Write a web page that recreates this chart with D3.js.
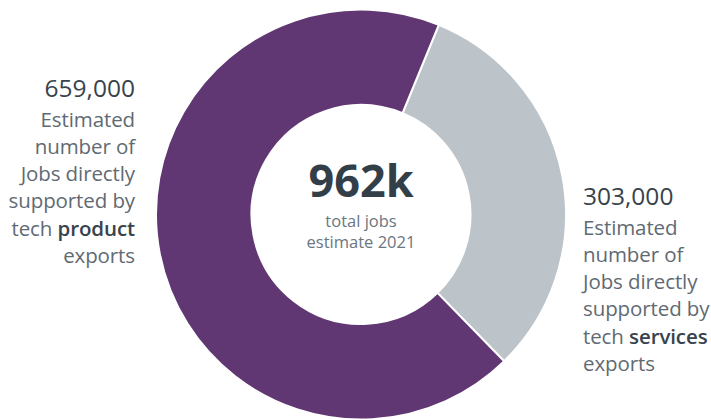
<!DOCTYPE html>
<html>
<head>
<meta charset="utf-8">
<script src="https://cdn.jsdelivr.net/npm/d3@7"></script>
<style>
  body { margin: 0; background: #fff; }
  svg { display: block; font-family: "Open Sans", sans-serif; }
</style>
</head>
<body>
<svg id="donut" width="711" height="419"></svg>
<script>
// slices, in drawing order (clockwise from the top split)
const segments = ["services", "product"];
const jobs = [303000, 659000];
const segmentColors = ["#bcc4c9", "#603772"];
const totalLabel = "962k";
const totalSub = ["total jobs", "estimate 2021"];

// side labels: number, then lines (bold word marked with *)
const productLines = ["Estimated", "number of", "Jobs directly", "supported by", "tech *product*", "exports"];
const servicesLines = ["Estimated", "number of", "Jobs directly", "supported by", "tech *services*", "exports"];

let svg = d3.select("#donut");

let cx = 361, cy = 214.5;
let outerR = 205, innerR = 109.5;
let startA = 22.3 * Math.PI / 180;

let pie = d3.pie().sort(null).startAngle(startA).endAngle(startA + 2 * Math.PI);
let arc = d3.arc().innerRadius(innerR).outerRadius(outerR);

let g = svg.append("g").attr("transform", "translate(" + cx + "," + cy + ")");

g.selectAll("path")
    .data(pie(jobs))
    .enter().append("path")
    .attr("d", arc)
    .attr("fill", (d, i) => segmentColors[i])
    .attr("stroke", "#fff")
    .attr("stroke-width", 2);

// centre text
g.append("text")
    .attr("text-anchor", "middle")
    .attr("y", -17.5)
    .attr("font-size", 45)
    .attr("font-weight", 700)
    .attr("fill", "#333f48")
    .text(totalLabel);

g.selectAll(".sub")
    .data(totalSub)
    .enter().append("text")
    .attr("class", "sub")
    .attr("text-anchor", "middle")
    .attr("y", (d, i) => 12.8 + i * 21)
    .attr("font-size", 16.5)
    .attr("fill", "#6b767f")
    .text(d => d);

function sideLabel(x, yTop, anchor, value, lines) {
    let t = svg.append("g");
    t.append("text")
        .attr("x", x)
        .attr("y", yTop)
        .attr("text-anchor", anchor)
        .attr("font-size", 24.5)
        .attr("fill", "#37434d")
        .text(d3.format(",")(value));
    lines.forEach((line, i) => {
        let txt = t.append("text")
            .attr("x", x)
            .attr("y", yTop + 29.5 + i * 27.3)
            .attr("text-anchor", anchor)
            .attr("font-size", 20.5)
            .attr("letter-spacing", -0.1)
            .attr("fill", "#5f6a73");
        line.split(/(\*[^*]+\*)/).filter(s => s.length).forEach(part => {
            if (part[0] === "*") {
                txt.append("tspan").attr("font-weight", 600).attr("fill", "#37434d").text(part.slice(1, -1));
            } else {
                txt.append("tspan").text(part);
            }
        });
    });
}

sideLabel(135, 97, "end", jobs[1], productLines);
sideLabel(583, 205, "start", jobs[0], servicesLines);
</script>
</body>
</html>
